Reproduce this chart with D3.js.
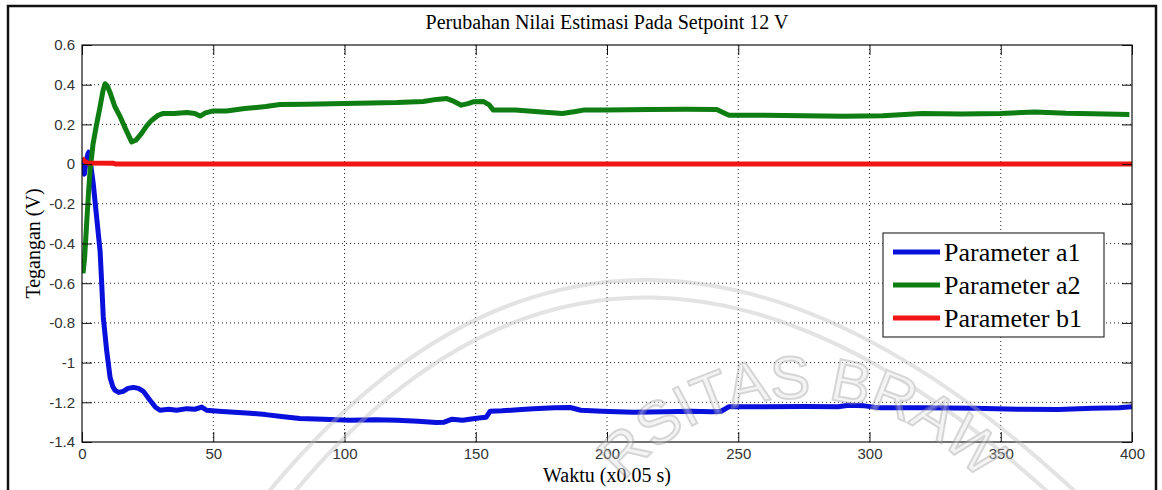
<!DOCTYPE html>
<html>
<head>
<meta charset="utf-8">
<script src="https://cdn.jsdelivr.net/npm/d3@7"></script>
<style>
  body { margin: 0; background: #fff; }
  svg { display: block; }
</style>
</head>
<body>
<div id="chart-area"></div>
<script>
// values: [time (x0.05 s), volts]
var a1 = [[0,0.03],[0.4,-0.04],[0.9,-0.05],[1.4,0.0],[2.2,0.05],[2.6,0.06],[3.3,0.0],[4.3,-0.1],[5.6,-0.27],
  [6.9,-0.44],[7.5,-0.6],[8.1,-0.77],[9.4,-0.94],[10.7,-1.075],[11.7,-1.12],[12.6,-1.14],[14,-1.15],[15.7,-1.145],
  [17.5,-1.13],[19.6,-1.125],[21.5,-1.13],[23.4,-1.145],[25.9,-1.19],[28,-1.225],[29.7,-1.24],[33,-1.235],[36,-1.24],
  [40,-1.232],[43,-1.235],[45.6,-1.224],[47.5,-1.24],[52,-1.245],[58,-1.25],[64,-1.255],[70,-1.262],[76,-1.272],
  [83,-1.282],[92,-1.285],[102,-1.29],[112,-1.288],[120,-1.29],[128,-1.295],[135,-1.302],[138,-1.3],[141,-1.285],
  [145,-1.29],[149,-1.283],[152,-1.278],[154,-1.275],[155.5,-1.245],[160,-1.243],[166,-1.238],[172,-1.232],
  [180,-1.228],[186,-1.226],[190,-1.24],[198,-1.245],[210,-1.25],[222,-1.248],[232,-1.245],[240,-1.247],
  [243.5,-1.245],[246.5,-1.222],[260,-1.222],[275,-1.221],[288,-1.222],[292,-1.215],[298,-1.218],[304,-1.228],
  [320,-1.228],[340,-1.23],[358,-1.235],[372,-1.236],[385,-1.23],[395,-1.228],[400,-1.222]];

var a2 = [[0.4,-0.55],[1,-0.47],[1.5,-0.36],[2,-0.25],[2.5,-0.14],[3.1,-0.03],[4.2,0.1],[5,0.16],[6,0.23],
  [6.9,0.29],[8,0.37],[8.8,0.405],[9.6,0.395],[10.7,0.36],[12.5,0.29],[14.5,0.24],[16.5,0.18],[18.9,0.112],
  [20.5,0.12],[22.7,0.155],[24.5,0.19],[26.5,0.22],[29,0.246],[31,0.255],[35,0.255],[40,0.26],[43,0.255],[45,0.242],
  [47,0.258],[50,0.268],[55,0.268],[62,0.28],[70,0.29],[75.4,0.3],[85,0.302],[100,0.305],[110,0.308],[120,0.31],
  [130,0.315],[135,0.326],[139,0.33],[141,0.32],[144.5,0.297],[147,0.305],[149,0.314],[153,0.315],[155,0.3],
  [156.7,0.272],[165,0.272],[175,0.262],[183,0.255],[188,0.265],[191,0.272],[200,0.272],[216,0.275],[230,0.276],
  [241.8,0.275],[245,0.255],[246.5,0.246],[260,0.246],[275,0.244],[290,0.241],[305,0.243],[320,0.255],[335,0.253],
  [350,0.255],[363,0.263],[375,0.256],[390,0.252],[399,0.25]];

var b1 = [[0,0.03],[1,0.015],[2,0.005],[12,0.004],[13,0],[400,0]];

var seriesNames = ["Parameter a1", "Parameter a2", "Parameter b1"];
var seriesColors = ["#0a10dc", "#0e7d12", "#f01414"];
var xTicks = [0, 50, 100, 150, 200, 250, 300, 350, 400];
var yTicks = [-1.4, -1.2, -1, -0.8, -0.6, -0.4, -0.2, 0, 0.2, 0.4, 0.6];
var yTickLabels = ["-1.4", "-1.2", "-1", "-0.8", "-0.6", "-0.4", "-0.2", "0", "0.2", "0.4", "0.6"];

var margin = { top: 45, bottom: 48, left: 82, right: 30 };
var width = 1132 - margin.left;
var height = 442 - margin.top;

var svg = d3.select("#chart-area").append("svg")
    .attr("width", 1162)
    .attr("height", 490);

// outer frame
svg.append("rect")
    .attr("x", 8).attr("y", 6)
    .attr("width", 1148).attr("height", 520)
    .attr("fill", "none").attr("stroke", "#111").attr("stroke-width", 2.5);

var g = svg.append("g")
    .attr("transform", "translate(" + margin.left + " " + margin.top + ")");

var x = d3.scaleLinear().domain([0, 400]).range([0, width]);
var y = d3.scaleLinear().domain([-1.4, 0.6]).range([height, 0]);

// dotted grid
g.selectAll(".vgrid")
    .data(xTicks.slice(1, -1)).enter()
    .append("line")
        .attr("x1", function(d) { return x(d); })
        .attr("x2", function(d) { return x(d); })
        .attr("y1", 0).attr("y2", height)
        .attr("stroke", "#222").attr("stroke-width", 1)
        .attr("stroke-dasharray", "1,3");
g.selectAll(".hgrid")
    .data(yTicks.slice(1, -1)).enter()
    .append("line")
        .attr("y1", function(d) { return y(d); })
        .attr("y2", function(d) { return y(d); })
        .attr("x1", 0).attr("x2", width)
        .attr("stroke", "#222").attr("stroke-width", 1)
        .attr("stroke-dasharray", "1,3");

// lines
g.append("clipPath").attr("id", "plotClip")
  .append("rect").attr("width", width).attr("height", height);

var line = d3.line()
    .x(function(d) { return x(d[0]); })
    .y(function(d) { return y(d[1]); });

var allSeries = [a1, a2, b1];
g.append("g").attr("clip-path", "url(#plotClip)")
  .selectAll("path")
    .data(allSeries).enter()
    .append("path")
        .attr("d", line)
        .attr("fill", "none")
        .attr("stroke", function(d, i) { return seriesColors[i]; })
        .attr("stroke-width", 5)
        .attr("stroke-linejoin", "round")
        .attr("stroke-linecap", "butt");

// axes, MATLAB style ticks pointing inward
function styleAxis(sel) {
    sel.select(".domain").remove();
    sel.selectAll(".tick line").attr("stroke", "#111");
    sel.selectAll("text")
        .attr("font-family", "Liberation Sans")
        .attr("font-size", "15px")
        .attr("fill", "#333");
}

g.append("g")
    .attr("transform", "translate(0 " + height + ")")
    .call(d3.axisBottom(x).tickValues(xTicks).tickSize(-10).tickPadding(6))
    .call(styleAxis);
g.append("g")
    .call(d3.axisTop(x).tickValues(xTicks).tickSize(-10).tickFormat(""))
    .call(styleAxis);
g.append("g")
    .call(d3.axisLeft(y).tickValues(yTicks).tickSize(-10).tickPadding(7)
        .tickFormat(function(d, i) { return yTickLabels[i]; }))
    .call(styleAxis);
g.append("g")
    .attr("transform", "translate(" + width + " 0)")
    .call(d3.axisRight(y).tickValues(yTicks).tickSize(-10).tickFormat(""))
    .call(styleAxis);

g.append("rect")
    .attr("width", width).attr("height", height)
    .attr("fill", "none").attr("stroke", "#111").attr("stroke-width", 1.2);

// title
svg.append("text")
    .attr("x", margin.left + width / 2).attr("y", 29)
    .attr("text-anchor", "middle")
    .attr("font-family", "Liberation Serif")
    .attr("font-size", "20px")
    .text("Perubahan Nilai Estimasi Pada Setpoint 12 V");

// x label
svg.append("text")
    .attr("x", margin.left + width / 2).attr("y", 482)
    .attr("text-anchor", "middle")
    .attr("font-family", "Liberation Serif")
    .attr("font-size", "20px")
    .text("Waktu (x0.05 s)");

// y label
svg.append("text")
    .attr("transform", "translate(40 " + (margin.top + height / 2) + ") rotate(-90)")
    .attr("text-anchor", "middle")
    .attr("font-family", "Liberation Serif")
    .attr("font-size", "20px")
    .text("Tegangan (V)");

// legend
var legend = svg.append("g").attr("transform", "translate(883 233)");
legend.append("rect")
    .attr("width", 221).attr("height", 104)
    .attr("fill", "#fff").attr("stroke", "#333").attr("stroke-width", 1.2);
var rows = legend.selectAll(".row")
    .data(seriesNames).enter()
    .append("g")
    .attr("transform", function(d, i) { return "translate(0 " + (19 + i * 33) + ")"; });
rows.append("line")
    .attr("x1", 10).attr("x2", 57)
    .attr("stroke", function(d, i) { return seriesColors[i]; })
    .attr("stroke-width", 5);
rows.append("text")
    .attr("x", 61).attr("y", 9)
    .attr("font-family", "Liberation Serif")
    .attr("font-size", "26px")
    .text(function(d) { return d; });

// faint watermark on top, like the scanned page
var wm = svg.append("g").attr("opacity", 0.4).attr("pointer-events", "none");
wm.append("path")
    .attr("d", "M 250 515 Q 620 40 1110 525")
    .attr("fill", "none").attr("stroke", "#bbb").attr("stroke-width", 4);
wm.append("path")
    .attr("d", "M 272 520 Q 620 70 1088 530")
    .attr("fill", "none").attr("stroke", "#bbb").attr("stroke-width", 4);
wm.append("path")
    .attr("id", "wmArc")
    .attr("d", "M 570 630 A 232 232 0 0 1 1034 630")
    .attr("fill", "none");
wm.append("text")
    .attr("font-family", "Liberation Sans")
    .attr("font-size", "60px")
    .attr("fill", "#e4e4e4")
    .attr("stroke", "#999")
    .attr("stroke-width", 2)
  .append("textPath")
    .attr("href", "#wmArc")
    .attr("startOffset", "50%")
    .attr("text-anchor", "middle")
    .text("RSITAS BRAW");
</script>
</body>
</html>
